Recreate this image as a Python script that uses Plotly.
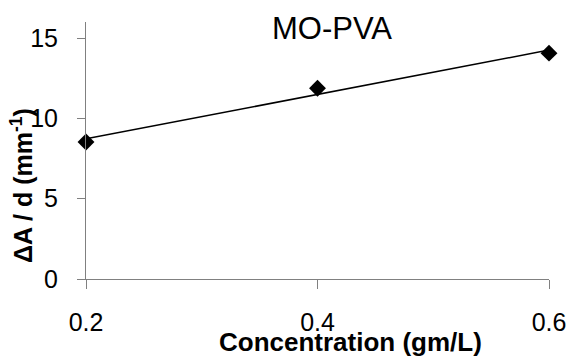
import numpy as np
import plotly.graph_objects as go

conc = [0.2, 0.4, 0.6]
absorb = [8.53, 11.88, 14.06]
x_ticks = [0.2, 0.4, 0.6]
x_tick_labels = ["0.2", "0.4", "0.6"]
y_ticks = [0, 5, 10, 15]

slope, icpt = np.polyfit(conc, absorb, 1)
fit_x = [min(conc), max(conc)]
fit_y = [slope * v + icpt for v in fit_x]

fig = go.Figure()
fig.add_trace(go.Scatter(x=fit_x, y=fit_y, mode="lines",
                         line=dict(color="black", width=1.5), showlegend=False))
fig.add_trace(go.Scatter(x=conc, y=absorb, mode="markers",
                         marker=dict(symbol="diamond", size=13, color="black"),
                         showlegend=False, cliponaxis=False))

font = "Liberation Sans, Arial, sans-serif"

L, R, T, B = 86, 22, 22, 78
W, H = 578, 357
pw = W - L - R
ph = H - T - B


def px_to_paper(px, py):
    return (px - L) / pw, (H - B - py) / ph


tx, ty = px_to_paper(336, 28)
xx, xy = px_to_paper(354, 342)
yx, yy = px_to_paper(21, 185)

fig.update_layout(
    width=W, height=H,
    margin=dict(l=L, r=R, t=T, b=B),
    paper_bgcolor="white", plot_bgcolor="white",
    font=dict(family=font, color="black"),
    xaxis=dict(range=[0.2, 0.6], tickvals=x_ticks, ticktext=x_tick_labels,
               showgrid=False, zeroline=False, showline=True, linecolor="#808080",
               linewidth=1, ticks="outside", ticklen=9, tickcolor="#808080",
               tickfont=dict(size=25, family=font), ticklabelstandoff=12),
    yaxis=dict(range=[0, 16], tickvals=y_ticks, showgrid=False, zeroline=False,
               showline=True, linecolor="#808080", linewidth=1, ticks="outside",
               ticklen=8, tickcolor="#808080", tickfont=dict(size=25, family=font),
               ticklabelstandoff=14),
    annotations=[
        dict(text="MO-PVA", x=tx, y=ty, xref="paper", yref="paper",
             xanchor="center", yanchor="middle",
             showarrow=False, font=dict(size=31, family=font)),
        dict(text="<b>Concentration (gm/L)</b>", x=xx, y=xy, xref="paper", yref="paper",
             xanchor="center", yanchor="middle",
             showarrow=False, font=dict(size=26, family=font)),
        dict(text="<b>ΔA / d (mm<sup>-1</sup>)</b>", x=yx, y=yy, xref="paper", yref="paper",
             xanchor="center", yanchor="middle",
             showarrow=False, textangle=-90, font=dict(size=25, family=font)),
    ],
)

fig.write_html("out.html")
